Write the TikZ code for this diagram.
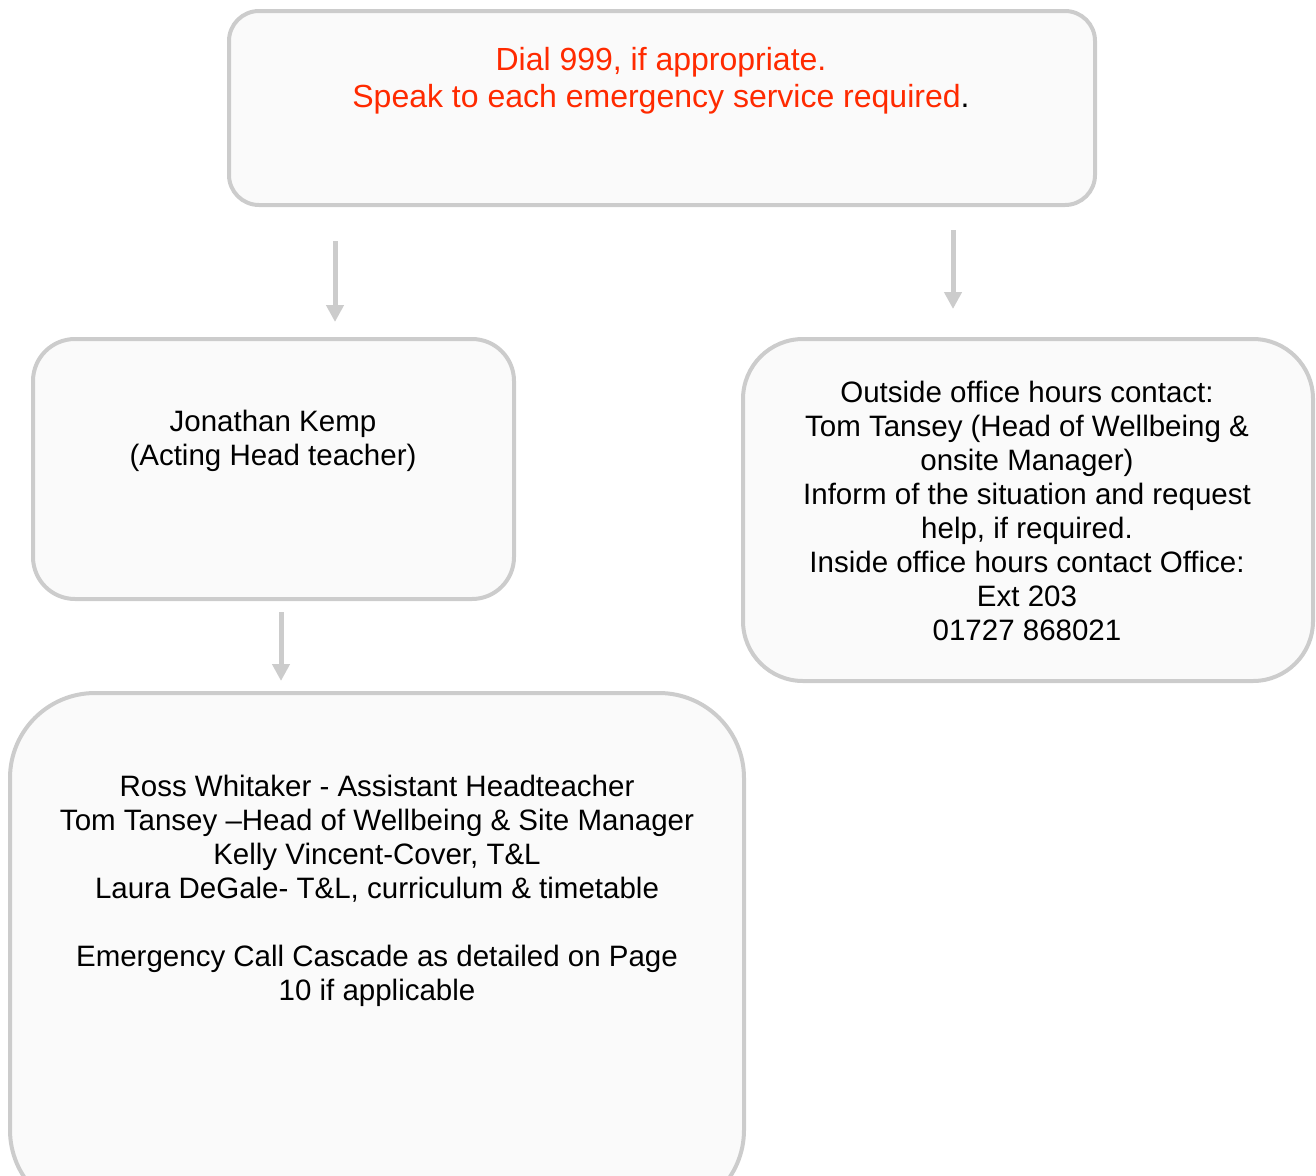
\documentclass[tikz,border=0pt]{standalone}
\usepackage{fontspec}
\setmainfont{Liberation Sans}
\usetikzlibrary{arrows.meta}
\definecolor{boxline}{HTML}{CCCCCC}
\definecolor{boxfill}{HTML}{FAFAFA}
\definecolor{alertred}{HTML}{FF2A00}
\tikzset{
  panel/.style={draw=boxline, line width=4pt, fill=boxfill},
  txt/.style={align=center, font=\fontsize{29.5}{34}\selectfont, inner sep=0pt},
  flow/.style={draw=boxline, line width=5pt, -{Triangle[width=17pt,length=17pt]}, shorten >=0pt}
}
\begin{document}
\begin{tikzpicture}[x=1pt,y=-1pt]
\useasboundingbox (0,0) rectangle (1316,1175);
% boxes
\draw[panel, rounded corners=30pt] (229,11) rectangle (1095,205);
\draw[panel, rounded corners=42pt] (33,339) rectangle (514,599);
\draw[panel, rounded corners=60pt] (743,339) rectangle (1313,681);
\draw[panel, rounded corners=85pt] (10,693) rectangle (744,1215);
% texts
\node[txt, text=alertred, font=\fontsize{32}{37}\selectfont] (ttop) at (661,81) {Dial 999, if appropriate.\\Speak to each emergency service required\textcolor{black}{.}};
\node[txt] (tleft) at (273,441) {Jonathan Kemp\\(Acting Head teacher)};
\node[txt] (tright) at (1027,511) {Outside office hours contact:\\Tom Tansey (Head of Wellbeing \&\\onsite Manager)\\Inform of the situation and request\\help, if required.\\Inside office hours contact Office:\\Ext 203\\01727 868021};
\node[txt] (tbottom) at (377,891) {Ross Whitaker - Assistant Headteacher\\Tom Tansey --Head of Wellbeing \& Site Manager\\Kelly Vincent-Cover, T\&L\\Laura DeGale- T\&L, curriculum \& timetable\\[34pt] Emergency Call Cascade as detailed on Page\\10 if applicable};
% arrows
\coordinate (a1s) at (335,241); \coordinate (a1e) at (335,322);
\coordinate (a2s) at (953,230); \coordinate (a2e) at (953,309);
\coordinate (a3s) at (281,612); \coordinate (a3e) at (281,681);
\draw[flow] (a1s) -- (a1e);
\draw[flow] (a2s) -- (a2e);
\draw[flow] (a3s) -- (a3e);
\end{tikzpicture}
\end{document}
